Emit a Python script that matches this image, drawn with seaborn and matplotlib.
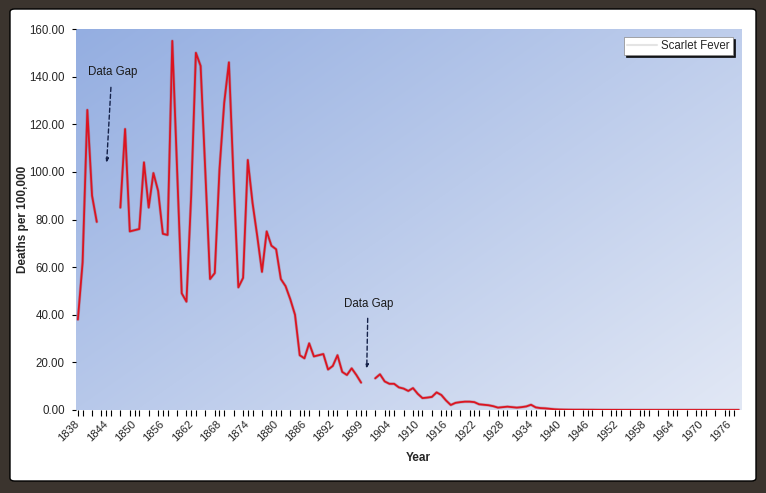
import numpy as np
import pandas as pd
import matplotlib
matplotlib.use("Agg")
import matplotlib.pyplot as plt
import matplotlib.patheffects as pe
from matplotlib.patches import FancyBboxPatch
from matplotlib.lines import Line2D
import seaborn as sns

# ---------------- data ----------------
years = list(range(1838, 1979))
deaths = [
    38, 62, 126, 90, 79,                      # 1838-1842
    None, None, None, None,                   # 1843-1846 (data gap)
    85, 118, 75, 75.5, 76, 104, 85, 99.5, 92, 74, 73.5,   # 1847-1857
    155, 102, 49, 45.5, 90, 150, 144.5, 100, 55, 57.5,    # 1858-1867
    101, 129, 146, 96, 51.5, 55.5, 105, 87, 73, 58,       # 1868-1877
    75, 69, 67.5, 55, 52, 46.5, 40, 23, 21.7, 28,         # 1878-1887
    22.5, 23, 23.5, 17, 18.5, 23, 16, 14.7, 17.5, 14.7,   # 1888-1897
    11.5,                                     # 1898
    None, None,                               # 1899-1900 (data gap)
    13.3, 15, 12, 11, 11, 9.5, 9, 8, 9.2,     # 1901-1909
    6.8, 5, 5.2, 5.5, 7.4, 6.3, 4, 2.1, 3, 3.3,           # 1910-1919
    3.5, 3.5, 3.3, 2.4, 2.2, 2, 1.6, 1.0, 1.2, 1.4,       # 1920-1929
    1.2, 1.0, 1.2, 1.5, 2.2, 1.1, 0.8, 0.7, 0.5, 0.3,     # 1930-1939
    0.2, 0.15, 0.12, 0.1, 0.1, 0.1, 0.08, 0.08, 0.06, 0.05,  # 1940-1949
    0.05, 0.04, 0.04, 0.03, 0.03, 0.03, 0.02, 0.02, 0.02, 0.02,  # 1950-1959
    0.01, 0.01, 0.01, 0.01, 0.01, 0.01, 0.01, 0.01, 0.01, 0.01,  # 1960-1969
    0.01, 0.01, 0.01, 0.01, 0.01, 0.01, 0.01, 0.01, 0.01,        # 1970-1978
]
series_name = "Scarlet Fever"
tick_years = [1838, 1844, 1850, 1856, 1862, 1868, 1874, 1880, 1886, 1892,
              1898, 1904, 1910, 1916, 1922, 1928, 1934, 1940, 1946, 1952,
              1958, 1964, 1970, 1976]
tick_labels = ["1838", "1844", "1850", "1856", "1862", "1868", "1874", "1880",
               "1886", "1892", "1899", "1904", "1910", "1916", "1922", "1928",
               "1934", "1940", "1946", "1952", "1958", "1964", "1970", "1976"]
y_ticks = [0, 20, 40, 60, 80, 100, 120, 140, 160]
gap_notes = [
    # text position, arrow start, arrow end
    ((1845.4, 142), (1845.0, 135.5), (1844.1, 104)),
    ((1899.6, 44.5), (1899.4, 38.5), (1899.2, 17.5)),
]

# -------------- build frame with segments (gaps break the line) --------------
df = pd.DataFrame({"year": years, "deaths": deaths})
df["deaths"] = pd.to_numeric(df["deaths"])
df["segment"] = df["deaths"].isna().cumsum()
df = df.dropna(subset=["deaths"])

# ---------------- style ----------------
sns.set_style("white")
plt.rcParams["font.family"] = ["Liberation Sans", "DejaVu Sans"]

W, H = 766, 493
fig = plt.figure(figsize=(W / 100, H / 100), dpi=100)
fig.patch.set_facecolor("#3b342e")

panel = FancyBboxPatch((10 / W, 12 / H), 746 / W, 472 / H,
                       boxstyle="round,pad=0,rounding_size=0.006",
                       transform=fig.transFigure, facecolor="white",
                       edgecolor="black", linewidth=1.0, zorder=-10)
fig.patches.append(panel)

ax_l, ax_r, ax_t, ax_b = 76, 742, 29, 410
ax = fig.add_axes([ax_l / W, (H - ax_b) / H, (ax_r - ax_l) / W, (ax_b - ax_t) / H])
ax.set_zorder(5)
ax.patch.set_alpha(0)

xmin, xmax = 1837.6, 1978.7
ymin, ymax = 0, 160

# gradient background
u = np.linspace(0, 1, 300)
v = np.linspace(0, 1, 300)
U, V = np.meshgrid(u, v)
t = 0.55 * U + 0.45 * V
c0 = np.array([148, 174, 225]) / 255
c1 = np.array([226, 232, 245]) / 255
img = c0 + t[..., None] * (c1 - c0)
ax.imshow(img, extent=[xmin, xmax, ymin, ymax], aspect="auto",
          origin="upper", zorder=0, interpolation="bilinear")

sns.lineplot(data=df, x="year", y="deaths", units="segment", estimator=None,
             color="#dc1420", linewidth=1.3, legend=False, ax=ax, zorder=3,
             path_effects=[pe.Stroke(linewidth=2.2, foreground="#9a2a3a", alpha=0.3),
                           pe.Normal()])

ax.set_xlim(xmin, xmax)
ax.set_ylim(ymin, ymax)

for sp in ax.spines.values():
    sp.set_visible(False)

ax.set_yticks(y_ticks)
ax.set_yticklabels([f"{v:.2f}" for v in y_ticks], fontsize=8.3)
ax.set_xticks(tick_years)
ax.set_xticklabels(tick_labels, fontsize=8, rotation=45, ha="right",
                   va="center", rotation_mode="anchor")
ax.set_xticks(list(range(1839, 1979, 2)), minor=True)
ax.tick_params(axis="x", which="both", direction="out", length=4, width=0.8,
               color="black", pad=5, bottom=True)
ax.tick_params(axis="y", which="major", direction="out", length=3, width=0.8,
               color="black", pad=5, left=True)

ax.set_ylabel("Deaths per 100,000", fontsize=8.5, fontweight="bold")
ax.yaxis.set_label_coords(-(ax_l - 29) / (ax_r - ax_l), 0.5)
ax.set_xlabel("Year", fontsize=8.5, fontweight="bold")
ax.xaxis.set_label_coords((418 - ax_l) / (ax_r - ax_l), -(452 - ax_b) / (ax_b - ax_t))

for (tx, ty), (sx, sy), (ex, ey) in gap_notes:
    ax.text(tx, ty, "Data Gap", fontsize=8.3, ha="center", va="center",
            color="#1a1a1a", zorder=5)
    ax.annotate("", xy=(ex, ey), xytext=(sx, sy),
                arrowprops=dict(arrowstyle="-|>", linestyle=(0, (3, 2)),
                                color="#15224a", lw=1.0, mutation_scale=5,
                                shrinkA=0, shrinkB=0), zorder=5)

handle = Line2D([], [], color="#e4e4e4", linewidth=1.5)
leg = ax.legend([handle], [series_name], loc="upper right",
                bbox_to_anchor=(1 - 9 / (ax_r - ax_l), 1 - 8 / (ax_b - ax_t)),
                borderaxespad=0, fontsize=8.3, frameon=True, fancybox=False,
                shadow={"color": "black", "alpha": 0.9, "ox": 1.5, "oy": -1.5},
                handlelength=2.6, borderpad=0.25, handletextpad=0.4)
leg.get_frame().set_facecolor("white")
leg.get_frame().set_edgecolor("#888888")
leg.get_frame().set_linewidth(0.5)
leg.get_frame().set_alpha(1)

fig.savefig("out.png", dpi=100, facecolor=fig.get_facecolor())
